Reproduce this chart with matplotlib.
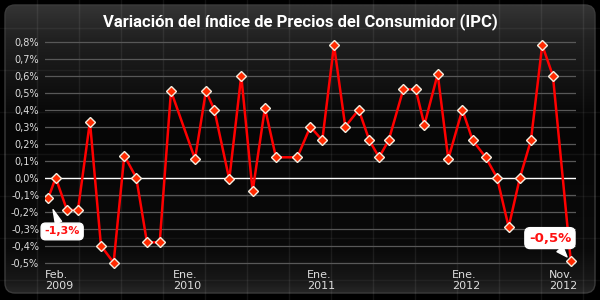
import numpy as np
import matplotlib
matplotlib.use('Agg')
import matplotlib.pyplot as plt
from matplotlib.patches import FancyBboxPatch
from matplotlib.colors import LinearSegmentedColormap

# posición en meses desde feb. 2009 y variación mensual del IPC (%)
mes = [0, 0.64, 1.61, 2.56, 3.59, 4.54, 5.63, 6.55, 7.58, 8.50, 9.60, 10.57,
       12.64, 13.58, 14.30, 15.59, 16.62, 17.60, 18.66, 19.61, 21.45, 22.57,
       23.60, 24.61, 25.58, 26.74, 27.65, 28.49, 29.32, 30.58, 31.65, 32.39,
       33.54, 34.45, 35.66, 36.55, 37.67, 38.65, 39.65, 40.62, 41.57, 42.54,
       43.46, 45.0]
ipc = [-0.12, 0.00, -0.19, -0.19, 0.33, -0.40, -0.50, 0.13, 0.00, -0.38, -0.38, 0.51,
       0.11, 0.51, 0.40, -0.01, 0.60, -0.08, 0.41, 0.12, 0.12, 0.30,
       0.22, 0.78, 0.30, 0.40, 0.22, 0.12, 0.22, 0.52, 0.52, 0.31,
       0.61, 0.11, 0.40, 0.22, 0.12, 0.00, -0.29, 0.00, 0.22, 0.78,
       0.60, -0.49]

etiquetas_x = ['Feb.\n2009', 'Ene.\n2010', 'Ene.\n2011', 'Ene.\n2012', 'Nov.\n2012']
pos_x = [-0.28, 10.74, 22.28, 34.77, 43.15]
ticks_y = [-0.5, -0.4, -0.3, -0.2, -0.1, 0.0, 0.1, 0.2, 0.3, 0.4, 0.5, 0.6, 0.7, 0.8]

titulo = 'Variación del índice de Precios del Consumidor (IPC)'
# texto de la burbuja, índice del punto
anotaciones = [('-1,3%', 0), ('-0,5%', -1)]

fig = plt.figure(figsize=(6, 3), dpi=100, facecolor='black')

# fondo: panel redondeado con degradado y trama de líneas
bg = fig.add_axes([0, 0, 1, 1])
bg.set_xlim(0, 600)
bg.set_ylim(300, 0)
bg.axis('off')

for x in range(37, 600, 42):
    bg.axvline(x, color='white', alpha=0.07, lw=1, zorder=3)
for y in range(28, 300, 42):
    bg.axhline(y, color='white', alpha=0.05, lw=1, zorder=3)

cmap = LinearSegmentedColormap.from_list('panel', [
    (0.0, '#343434'), (0.12, '#202020'), (0.4, '#060606'),
    (0.85, '#0a0a0a'), (0.96, '#181818'), (1.0, '#262626')])
grad = np.linspace(0, 1, 256).reshape(-1, 1)
im = bg.imshow(grad, extent=(5, 595, 293, 5), aspect='auto', cmap=cmap, zorder=1)
panel = FancyBboxPatch((5, 5), 590, 288, boxstyle='round,pad=0,rounding_size=10',
                       transform=bg.transData, fc='none', ec='#3a3a3a', lw=1, zorder=2)
bg.add_patch(panel)
im.set_clip_path(panel)

fig.text(0.5, 1 - 22 / 300, titulo, ha='center', va='center', color='white',
         fontsize=12, fontweight='bold', family='Roboto')

# gráfico
ax = fig.add_axes([0.075, 0.1073, 0.885, 0.7707])
ax.patch.set_alpha(0)
for s in ax.spines.values():
    s.set_visible(False)
ax.set_xlim(-0.28, 45.45)
ax.set_ylim(-0.53, 0.83)

ax.set_yticks(ticks_y)
ax.set_yticklabels([f'{v:.1f}%'.replace('.', ',') for v in ticks_y])
ax.set_xticks(pos_x)
ax.set_xticklabels(etiquetas_x, ha='left')
ax.tick_params(axis='both', length=0, colors='#dddddd')
ax.tick_params(axis='y', labelsize=7, pad=4.3)
ax.tick_params(axis='x', labelsize=8, pad=1.5)

for v in ticks_y:
    if v != 0:
        ax.axhline(v, color='#585858', lw=0.9, zorder=1)
ax.axhline(0, color='white', lw=1, zorder=2)

ax.plot(mes, ipc, color='#ff0000', lw=1.8, zorder=3,
        marker='D', markersize=5, markerfacecolor='#ff2a00',
        markeredgecolor='#f4eee0', markeredgewidth=1)

offsets = {0: (10, -24), -1: (-15, 16.5)}
tamanos = {0: 8, -1: 9.5}
recorte = {0: 9, -1: 4}
for texto, i in anotaciones:
    ax.annotate(texto, xy=(mes[i], ipc[i]), xytext=offsets[i], textcoords='offset points',
                ha='center', va='center', color='#ff1010', fontweight='bold',
                fontsize=tamanos[i], zorder=5,
                bbox=dict(boxstyle='round,pad=0.3,rounding_size=0.4', fc='white', ec='white'),
                arrowprops=dict(arrowstyle='wedge,tail_width=0.6,shrink_factor=0.5',
                                fc='white', ec='white', shrinkA=0, shrinkB=recorte[i]))

fig.savefig('out.png', dpi=100, facecolor='black')
